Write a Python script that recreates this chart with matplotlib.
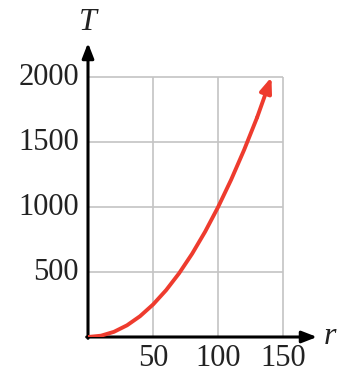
import matplotlib
matplotlib.use("Agg")
import matplotlib.pyplot as plt

# 读图得到的曲线点 (r, T)
r_vals = [0, 10, 20, 30, 40, 50, 60, 70, 80, 90, 100, 110, 120, 130, 141]
T_vals = [0, 10, 40, 90, 160, 250, 360, 490, 640, 810, 1000, 1210, 1440, 1690, 2000]
x_ticks = [50, 100, 150]
y_ticks = [500, 1000, 1500, 2000]

RED = "#ee3b2e"
GRID = "#c4c4c4"
TXT = "#222222"

plt.rcParams["font.family"] = ["Liberation Serif", "DejaVu Serif"]

fig = plt.figure(figsize=(3.37, 3.77), dpi=100)
ax = fig.add_axes([88 / 337, 40 / 377, 229 / 337, 294 / 377])
ax.set_xlim(0, 176)
ax.set_ylim(0, 2262)
ax.axis("off")

# 网格只画在 0..150 × 0..2000 的框内
ax.vlines(x_ticks, 0, y_ticks[-1], color=GRID, lw=1.2, zorder=1)
ax.hlines(y_ticks, 0, x_ticks[-1], color=GRID, lw=1.2, zorder=1)

# 坐标轴箭头
akw = dict(arrowstyle="-|>,head_length=0.9,head_width=0.35", color="black", lw=2.2,
           shrinkA=0, shrinkB=0)
ax.annotate("", xy=(176, 0), xytext=(-1, 0), arrowprops=akw, zorder=3)
ax.annotate("", xy=(0, 2262), xytext=(0, -10), arrowprops=akw, zorder=3)

# 曲线 + 末端箭头
ax.plot(r_vals[:-1], T_vals[:-1], color=RED, lw=2.8, solid_capstyle="round", zorder=4)
ax.annotate("", xy=(r_vals[-1], T_vals[-1]), xytext=(r_vals[-2], T_vals[-2]),
            arrowprops=dict(arrowstyle="-|>,head_length=0.9,head_width=0.35", color=RED,
                            lw=2.8, shrinkA=0, shrinkB=0), zorder=4)

# 刻度标签
for xv in x_ticks:
    ax.text(xv, -165, str(xv), ha="center", va="center", fontsize=22, color=TXT)
for yv in y_ticks:
    ax.text(-7, yv, str(yv), ha="right", va="center", fontsize=22, color=TXT)

ax.text(181, 0, "r", ha="left", va="center", fontsize=23, style="italic", color=TXT)
ax.text(0, 2420, "T", ha="center", va="center", fontsize=23, style="italic", color=TXT)

fig.savefig("out.png", dpi=100)
